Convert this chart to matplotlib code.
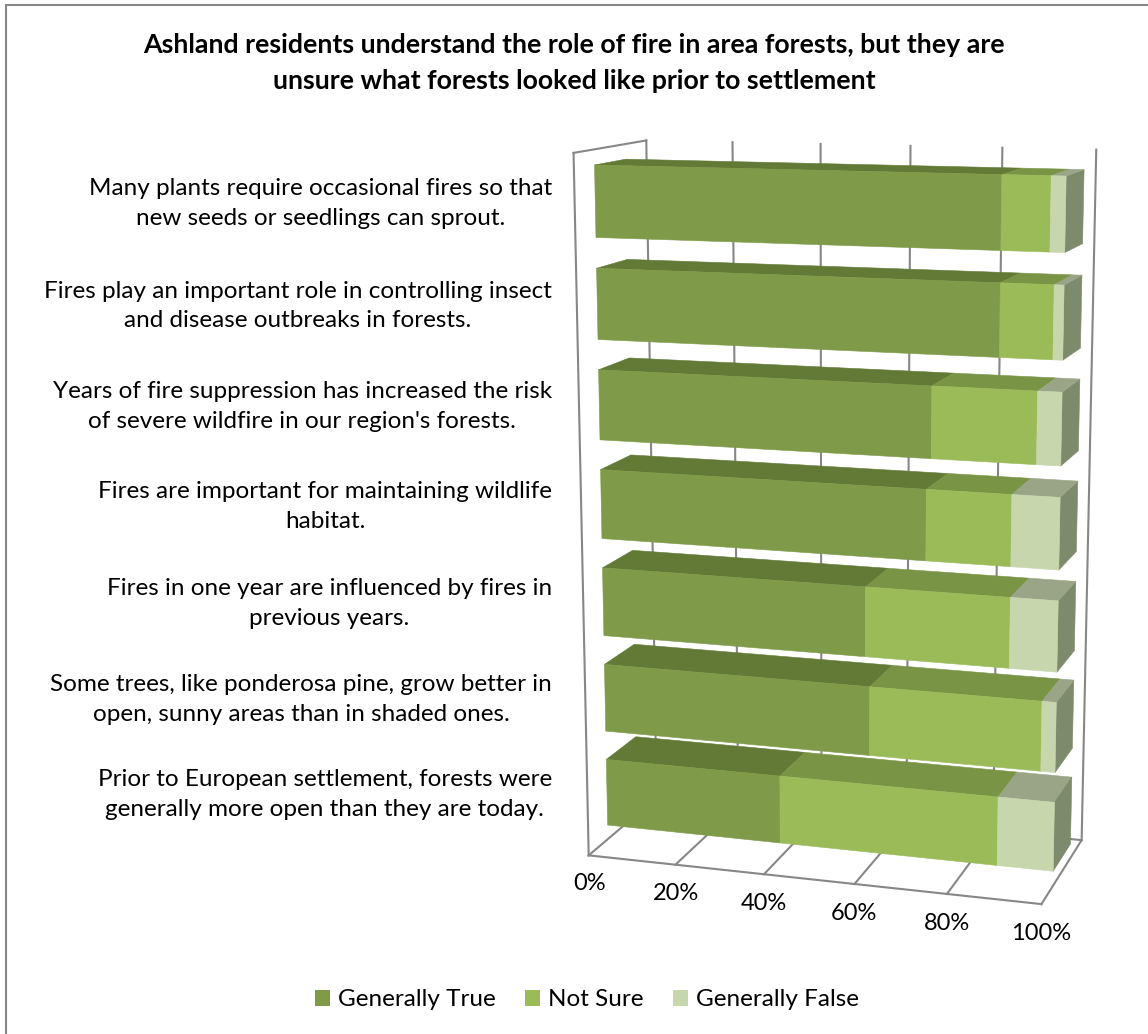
import numpy as np
import matplotlib
matplotlib.use("Agg")
import matplotlib.pyplot as plt
from matplotlib.patches import Patch, Rectangle
from mpl_toolkits.mplot3d import proj3d
from mpl_toolkits.mplot3d.art3d import Poly3DCollection

# ---------------------------------------------------------------- data
title = ("Ashland residents understand the role of fire in area forests, but they are\n"
         "unsure what forests looked like prior to settlement")

# statements listed bottom to top
statements = [
    "Prior to European settlement, forests were\ngenerally more open than they are today.",
    "Some trees, like ponderosa pine, grow better in\nopen, sunny areas than in shaded ones.",
    "Fires in one year are influenced by fires in\nprevious years.",
    "Fires are important for maintaining wildlife\nhabitat.",
    "Years of fire suppression has increased the risk\nof severe wildfire in our region's forests.",
    "Fires play an important role in controlling insect\nand disease outbreaks in forests.",
    "Many plants require occasional fires so that\nnew seeds or seedlings can sprout.",
]
series_names = ["Generally True", "Not Sure", "Generally False"]
generally_true = [40, 60, 59, 72, 73, 87, 87]
not_sure = [48, 37, 31, 18, 22, 11, 10]
generally_false = [12, 3, 10, 10, 5, 2, 3]
tick_values = [0, 20, 40, 60, 80, 100]
tick_labels = ["0%", "20%", "40%", "60%", "80%", "100%"]

# ---------------------------------------------------------------- style
front_colors = ["#7F9A48", "#9BBB59", "#C7D6AD"]
top_colors = ["#627A35", "#7A9446", "#99A586"]
side_color = "#7E8A6C"
grid_color = "#878787"
FONT = ["Lato", "DejaVu Sans"]
plt.rcParams["font.family"] = FONT

W, H = 1148, 1034
fig = plt.figure(figsize=(W / 100, H / 100), dpi=100)

n = len(statements)
depth = 1.0
bar_frac = 0.70
d0, d1 = 0.27, 0.70

ax = fig.add_axes([0.3, 0.05, 0.7, 0.8], projection="3d", computed_zorder=False)
ax.set_proj_type("persp", focal_length=0.55)
ax.view_init(elev=12, azim=-73)
ax.set_xlim(0, 100, view_margin=0)
ax.set_ylim(0, depth, view_margin=0)
ax.set_zlim(0, n, view_margin=0)
ax.set_box_aspect((480, 196, 724))
ax.set_axis_off()
ax.patch.set_alpha(0)
for axis in (ax.xaxis, ax.yaxis, ax.zaxis):
    axis.label.set_visible(False)
    axis.offsetText.set_visible(False)
ax.title.set_visible(False)

# walls and floor grid
lw = 1.5
for t in tick_values:
    ax.plot([t, t], [depth, depth], [0, n], color=grid_color, lw=lw, zorder=1)
    ax.plot([t, t], [0, depth], [0, 0], color=grid_color, lw=lw, zorder=1)
ax.plot([0, 100], [0, 0], [0, 0], color=grid_color, lw=lw, zorder=1)
ax.plot([0, 100], [depth, depth], [0, 0], color=grid_color, lw=lw, zorder=1)
ax.plot([0, 0], [0, 0], [0, n], color=grid_color, lw=lw, zorder=1)
ax.plot([0, 0], [0, depth], [n, n], color=grid_color, lw=lw, zorder=1)

# stacked 3-D bars: front, top and end faces
verts, fcols = [], []
for i in range(n):
    z0 = i + (1 - bar_frac) / 2
    z1 = z0 + bar_frac
    vals = [generally_true[i], not_sure[i], generally_false[i]]
    total = float(sum(vals))
    left = 0.0
    for k, v in enumerate(vals):
        right = left + v / total * 100
        verts.append([(left, d0, z0), (right, d0, z0), (right, d0, z1), (left, d0, z1)])
        fcols.append(front_colors[k])
        verts.append([(left, d0, z1), (right, d0, z1), (right, d1, z1), (left, d1, z1)])
        fcols.append(top_colors[k])
        left = right
    verts.append([(left, d0, z0), (left, d1, z0), (left, d1, z1), (left, d0, z1)])
    fcols.append(side_color)
pc = Poly3DCollection(verts, facecolors=fcols, edgecolors=fcols, linewidths=0.4, zorder=3)
ax.add_collection3d(pc)

for t, lab in zip(tick_values, tick_labels):
    ax.text(t, 0, -0.3, lab, ha="center", va="center", fontsize=17, zorder=4)


def to_px(p):
    M = ax.get_proj()
    xs, ys, _ = proj3d.proj_transform(np.array([p[0]], float), np.array([p[1]], float),
                                      np.array([p[2]], float), M)
    d = ax.transData.transform([[xs[0], ys[0]]])[0]
    return np.array([d[0], H - d[1]])


# size and place the 3-D box inside the figure
anchors = [(0, 0, n), (100, 0, 0)]
goals = [np.array([575.0, 152.0]), np.array([1040.0, 905.0])]
for _ in range(4):
    fig.canvas.draw()
    cur = [to_px(p) for p in anchors]
    s = np.linalg.norm(goals[1] - goals[0]) / np.linalg.norm(cur[1] - cur[0])
    bb = ax.get_position()
    c = np.array([(bb.x0 + bb.x1) / 2 * W, H - (bb.y0 + bb.y1) / 2 * H])
    cn = np.mean([g - s * (p - c) for g, p in zip(goals, cur)], axis=0)
    w = bb.width * W * s
    h = bb.height * H * s
    ax.set_position([(cn[0] - w / 2) / W, (H - cn[1] - h / 2) / H, w / W, h / H])
fig.canvas.draw()

# statement labels beside each bar
for i, s in enumerate(statements):
    p = to_px((0, d0, i + 0.5))
    fig.text(552 / W, 1 - (p[1] + 2) / H, s, ha="right", va="center", multialignment="center",
             fontsize=17.5, linespacing=1.52)

fig.text(574 / W, 1 - 63 / H, title, ha="center", va="center", fontsize=19.3,
         fontweight="bold", linespacing=1.62)

handles = [Patch(facecolor=c, edgecolor="none") for c in front_colors]
fig.legend(handles, series_names, loc="center", bbox_to_anchor=(587 / W, 1 - 1000 / H),
           ncol=3, frameon=False, fontsize=17.5, handlelength=0.62, handleheight=0.62,
           handletextpad=0.33, columnspacing=1.2)

fig.add_artist(Rectangle((6 / W, -0.01), 1.02, (H - 5) / H + 0.01, transform=fig.transFigure,
                         fill=False, edgecolor="#878787", lw=1.5))

fig.savefig("out.png", dpi=100)
